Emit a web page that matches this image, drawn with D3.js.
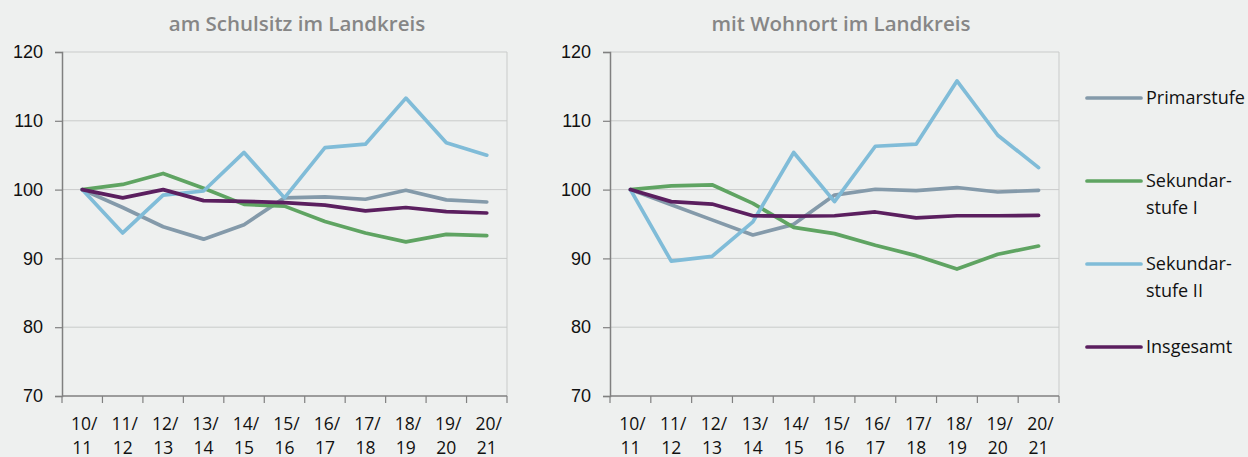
<!DOCTYPE html>
<html>
<head>
<meta charset="utf-8">
<script src="https://cdn.jsdelivr.net/npm/d3@7"></script>
<style>
  body { margin: 0; background: #eef0ef; }
  svg { display: block; font-family: "Open Sans", "Noto Sans", sans-serif; }
</style>
</head>
<body>
<div id="chart"></div>
<script>
// Schuljahre
var years = ["10/11", "11/12", "12/13", "13/14", "14/15", "15/16", "16/17", "17/18", "18/19", "19/20", "20/21"];
var yTicks = [70, 80, 90, 100, 110, 120];

var seriesNames = ["Primarstufe", "Sekundarstufe I", "Sekundarstufe II", "Insgesamt"];
var legendLabels = [["Primarstufe"], ["Sekundar-", "stufe I"], ["Sekundar-", "stufe II"], ["Insgesamt"]];
var colors = ["#849aaa", "#5fa462", "#80bcd8", "#5b1f5f"];

// am Schulsitz im Landkreis
var schulsitzPrimar = [100, 97.4, 94.6, 92.8, 94.9, 98.8, 98.95, 98.6, 99.9, 98.5, 98.2];
var schulsitzSek1 = [100, 100.75, 102.35, 100.2, 97.85, 97.6, 95.35, 93.7, 92.4, 93.5, 93.3];
var schulsitzSek2 = [100, 93.7, 99.2, 99.8, 105.4, 98.8, 106.1, 106.6, 113.3, 106.8, 105.0];
var schulsitzGesamt = [100, 98.8, 100, 98.4, 98.3, 98.1, 97.75, 96.9, 97.4, 96.8, 96.6];

// mit Wohnort im Landkreis
var wohnortPrimar = [100, 97.8, 95.6, 93.4, 94.95, 99.2, 100.05, 99.85, 100.3, 99.65, 99.9];
var wohnortSek1 = [100, 100.55, 100.7, 98.0, 94.5, 93.6, 91.9, 90.4, 88.45, 90.6, 91.8];
var wohnortSek2 = [100, 89.6, 90.3, 95.3, 105.4, 98.25, 106.3, 106.6, 115.8, 107.9, 103.2];
var wohnortGesamt = [100, 98.25, 97.9, 96.2, 96.15, 96.2, 96.75, 95.9, 96.2, 96.2, 96.25];

var panels = [
  { title: "am Schulsitz im Landkreis", left: 62, right: 507, titleX: 297, data: [schulsitzPrimar, schulsitzSek1, schulsitzSek2, schulsitzGesamt] },
  { title: "mit Wohnort im Landkreis", left: 610, right: 1059, titleX: 841, data: [wohnortPrimar, wohnortSek1, wohnortSek2, wohnortGesamt] }
];

var width = 1248, height = 457;
var plotTop = 52, plotBottom = 396;

var svg = d3.select("#chart").append("svg")
  .attr("width", width)
  .attr("height", height);

var y = d3.scaleLinear().domain([70, 120]).range([plotBottom, plotTop]);

panels.forEach(function(p) {
  var x = d3.scaleBand().domain(years).range([p.left, p.right]).padding(0);
  var g = svg.append("g");

  g.append("text")
    .attr("x", p.titleX)
    .attr("y", 31)
    .attr("text-anchor", "middle")
    .attr("font-size", 20.5)
    .attr("font-weight", 600)
    .attr("fill", "#868686")
    .text(p.title);

  // gridlines
  g.selectAll(".grid")
    .data(yTicks.filter(function(d) { return d > 70; }))
    .enter().append("line")
    .attr("x1", p.left).attr("x2", p.right)
    .attr("y1", function(d) { return y(d); })
    .attr("y2", function(d) { return y(d); })
    .attr("stroke", "#c9cbca")
    .attr("stroke-width", 1);

  g.append("line")
    .attr("x1", p.right).attr("x2", p.right)
    .attr("y1", plotTop).attr("y2", plotBottom)
    .attr("stroke", "#c9cbca");

  // y axis
  var yAxis = d3.axisLeft(y).tickValues(yTicks).tickSize(7).tickPadding(12);
  var ya = g.append("g").attr("transform", "translate(" + p.left + ",0)").call(yAxis);
  ya.select(".domain").attr("stroke", "#808080").attr("stroke-width", 1.5);
  ya.selectAll(".tick line").attr("stroke", "#808080").attr("stroke-width", 1.2);
  ya.selectAll("text").attr("font-size", 18).attr("fill", "#111").attr("font-family", "inherit");

  // x axis
  var xa = g.append("g").attr("transform", "translate(0," + plotBottom + ")");
  xa.append("line")
    .attr("x1", p.left).attr("x2", p.right)
    .attr("stroke", "#808080").attr("stroke-width", 1.5);
  var edges = years.map(function(d) { return x(d); }).concat([p.right]);
  xa.selectAll(".xt").data(edges).enter().append("line")
    .attr("x1", function(d) { return d; }).attr("x2", function(d) { return d; })
    .attr("y1", 0).attr("y2", 7)
    .attr("stroke", "#808080").attr("stroke-width", 1.2);
  var lab = xa.selectAll(".xl").data(years).enter().append("text")
    .attr("text-anchor", "middle")
    .attr("font-size", 17.5)
    .attr("fill", "#111");
  lab.append("tspan")
    .attr("x", function(d) { return x(d) + x.bandwidth() / 2 + 2; })
    .attr("y", 34)
    .text(function(d) { return d.split("/")[0] + "/"; });
  lab.append("tspan")
    .attr("x", function(d) { return x(d) + x.bandwidth() / 2; })
    .attr("y", 58)
    .text(function(d) { return d.split("/")[1]; });

  var line = d3.line()
    .x(function(d, i) { return x(years[i]) + x.bandwidth() / 2; })
    .y(function(d) { return y(d); });

  g.selectAll(".series")
    .data(p.data)
    .enter().append("path")
    .attr("d", line)
    .attr("fill", "none")
    .attr("stroke", function(d, i) { return colors[i]; })
    .attr("stroke-width", 3.7)
    .attr("stroke-linejoin", "round")
    .attr("stroke-linecap", "round");
});

// legend
var legendY = [98, 181, 264, 347];
var leg = svg.selectAll(".legend")
  .data(seriesNames)
  .enter().append("g")
  .attr("transform", function(d, i) { return "translate(1087," + legendY[i] + ")"; });
leg.append("line")
  .attr("x1", 0).attr("x2", 54)
  .attr("stroke", function(d, i) { return colors[i]; })
  .attr("stroke-width", 3.7)
  .attr("stroke-linecap", "round");
leg.append("text")
  .attr("font-size", 18)
  .attr("fill", "#111")
  .each(function(d, i) {
    var t = d3.select(this);
    legendLabels[i].forEach(function(s, k) {
      t.append("tspan").attr("x", 59).attr("y", 6 + k * 27).text(s);
    });
  });
</script>
</body>
</html>
